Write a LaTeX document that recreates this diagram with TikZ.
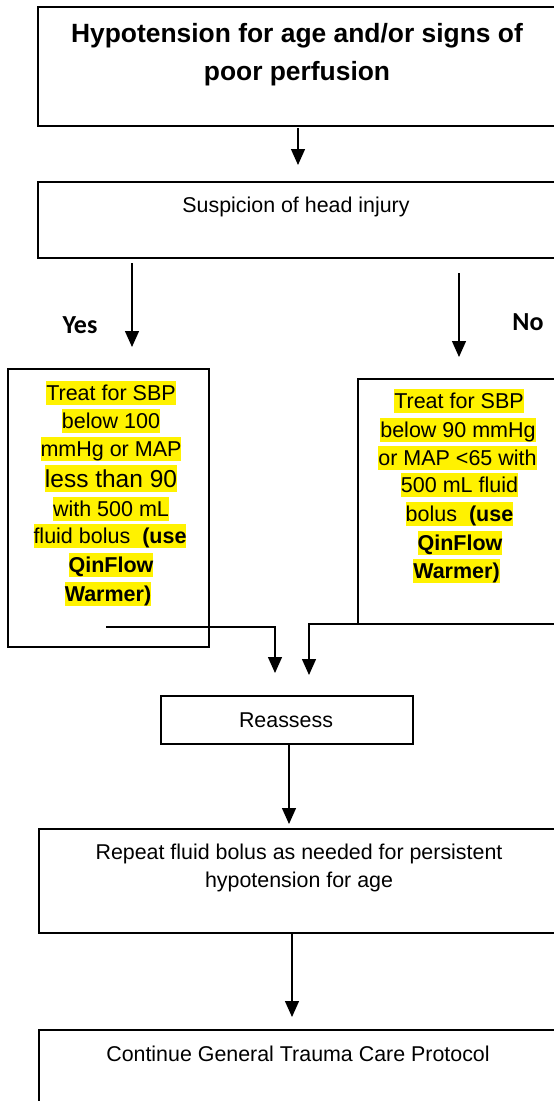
\documentclass[tikz,border=0pt]{standalone}
\usepackage{fontspec}
\setmainfont{Liberation Sans}
\newfontfamily\calib{Carlito}
\usetikzlibrary{arrows.meta}
\begin{document}
\begin{tikzpicture}[x=1pt,y=-1pt,
  box/.style={draw, line width=1.6pt, inner sep=0pt, anchor=north west},
  arr/.style={line width=1.3pt, -{Triangle[length=16pt,width=14pt]}},
  txt/.style={anchor=base, inner sep=0pt, font=\fontsize{21.4}{25}\selectfont},
  ttl/.style={anchor=base, inner sep=0pt, font=\fontsize{26.4}{30}\selectfont\bfseries},
  lbl/.style={anchor=base, inner sep=0pt, font=\calib\fontsize{26}{30}\selectfont\bfseries},
  hl/.style={fill=yellow, anchor=base, inner xsep=0pt, inner ysep=0pt, text height=19pt, text depth=5pt, font=\fontsize{21.5}{25}\selectfont},
  hlbig/.style={hl, text height=22pt, font=\fontsize{24.5}{28}\selectfont}]
\useasboundingbox (0,0) rectangle (554,1101);
\fill[white] (0,0) rectangle (554,1101);

% boxes
\node[box, minimum width=523pt, minimum height=119pt] (top) at (37,6) {};
\node[box, minimum width=523pt, minimum height=76pt] (susp) at (37,181) {};
\node[box, minimum width=201pt, minimum height=278pt] (left) at (7,368) {};
\node[box, minimum width=203pt, minimum height=245pt] (right) at (357,378) {};
\node[box, minimum width=252pt, minimum height=48pt] (reas) at (160,695) {};
\node[box, minimum width=522pt, minimum height=104pt] (rep) at (38,828) {};
\node[box, minimum width=522pt, minimum height=100pt] (cont) at (38,1029) {};

% texts
\node[ttl] (t1) at (297,42) {Hypotension for age and/or signs of};
\node[ttl] (t2) at (297,80) {poor perfusion};
\node[txt] (s1) at (296,212) {Suspicion of head injury};
\node[lbl] (yes) at (80,333) {Yes};
\node[lbl] (no) at (528,330) {No};

\node[hl] (l1) at (111,400) {Treat for SBP\ };
\node[hl] (l2) at (111,428) {below 100\ };
\node[hl] (l3) at (111,456) {mmHg or MAP\ };
\node[hlbig] (l4) at (111,487) {less than 90\ };
\node[hl] (l5) at (111,516) {with 500 mL\ };
\node[hl] (l6) at (110,543) {fluid bolus\ \ \textbf{(use}\ };
\node[hl] (l7) at (111,572) {\textbf{QinFlow}\ };
\node[hl] (l8) at (108,601) {\textbf{Warmer)}};

\node[hl] (r1) at (459,408) {Treat for SBP\ };
\node[hl] (r2) at (458,437) {below 90 mmHg};
\node[hl] (r3) at (457.5,465) {or MAP <65 with};
\node[hl] (r4) at (459.5,492) {500 mL fluid\ };
\node[hl] (r5) at (459.5,521) {bolus\ \ \textbf{(use}\ };
\node[hl] (r6) at (460,550) {\textbf{QinFlow}\ };
\node[hl] (r7) at (456.5,578) {\textbf{Warmer)}};

\node[txt] (ra) at (286,727) {Reassess};
\node[txt] (p1) at (299,859) {Repeat fluid bolus as needed for persistent};
\node[txt] (p2) at (299,887) {hypotension for age};
\node[txt] (c1) at (298,1061) {Continue General Trauma Care Protocol};

% connectors
\coordinate (a1s) at (298,128); \coordinate (a1e) at (298,165);
\draw[arr] (a1s) -- (a1e);
\coordinate (ys) at (132,263); \coordinate (ye) at (132,347);
\draw[arr] (ys) -- (ye);
\coordinate (ns) at (459,273); \coordinate (ne) at (459,357);
\draw[arr] (ns) -- (ne);
\coordinate (ls) at (106,627); \coordinate (le) at (275,673);
\draw[arr] (ls) -| (le);
\coordinate (rs) at (482,624); \coordinate (re) at (309,675);
\draw[arr] (rs) -| (re);
\coordinate (re2) at (289,824);
\draw[arr] (reas.south -| re2) -- (re2);
\coordinate (bs) at (292,932); \coordinate (be) at (292,1017);
\draw[arr] (bs) -- (be);
\end{tikzpicture}
\end{document}
